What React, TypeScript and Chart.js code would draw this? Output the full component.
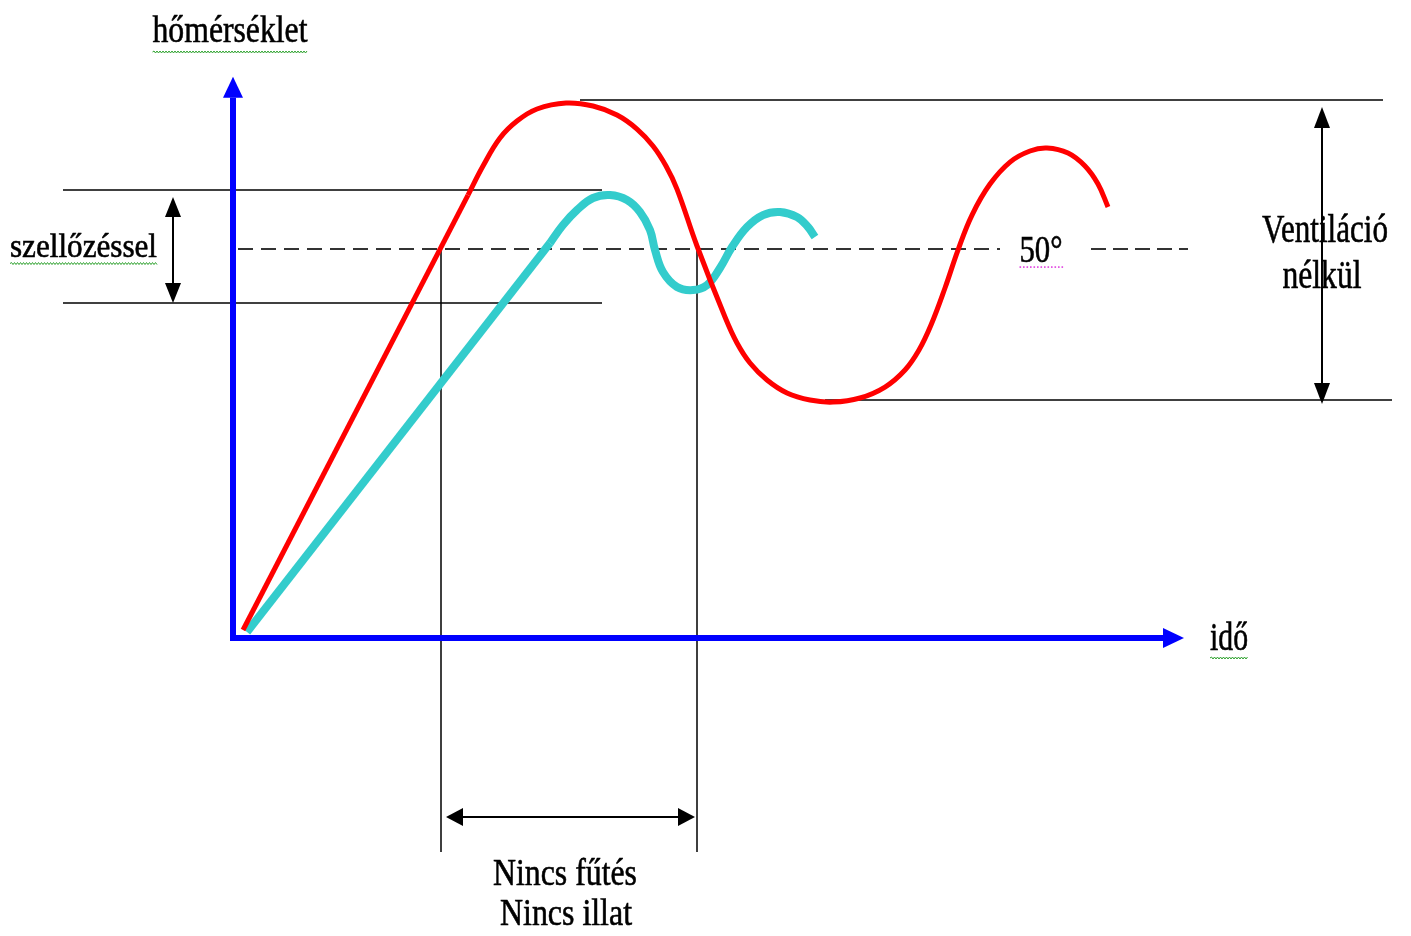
import { useEffect, useRef } from "react";
import { Chart, registerables } from "chart.js";

Chart.register(...registerables);

// ---- scale ranges (x: time units, y: temperature °C) ----
const TIME_MIN = -23.3;
const TIME_MAX = 117.8;
const TEMP_MIN = -38.3;
const TEMP_MAX = 82.01;

// ---- blue axes (shaft ends; arrowheads are added beyond them) ----
const axisTime = [0, 0, 93.0];
const axisTemp = [69.46, 0, 0];

// ---- red curve: without ventilation ----
const redRiseTime = [1.0, 23.5];
const redRiseTemp = [1.03, 56.94];
const redWaveTime = [23.5, 25.0, 26.7, 28.4, 30.4, 33.3, 36.0, 38.4, 40.4, 42.0, 43.3, 44.4, 46.4, 49.2, 50.4, 51.7, 53.4, 55.4, 57.7, 60.0, 62.7, 65.2, 67.2, 68.6, 69.8, 71.2, 72.5, 73.9, 75.7, 77.7, 79.7, 81.4, 83.5, 85.2, 86.5, 87.5];
const redWaveTemp = [56.94, 60.67, 64.27, 66.45, 68.0, 68.77, 68.38, 67.22, 65.42, 63.24, 60.67, 57.71, 50.39, 41.26, 37.92, 35.35, 33.16, 31.49, 30.59, 30.33, 30.85, 32.26, 34.45, 37.02, 40.23, 44.99, 49.87, 54.37, 58.35, 61.18, 62.60, 62.98, 62.34, 60.67, 58.35, 55.40];

// ---- cyan curve: with ventilation ----
const cyanRiseTime = [1.4, 31.7];
const cyanRiseTemp = [0.77, 50.77];
const cyanWaveTime = [31.7, 33.0, 34.4, 36.0, 37.7, 39.4, 40.7, 41.7, 42.2, 43.0, 44.4, 46.0, 47.4, 48.7, 49.9, 51.4, 53.0, 54.7, 56.4, 57.5, 58.2];
const cyanWaveTemp = [50.77, 53.08, 55.01, 56.56, 56.94, 56.30, 54.76, 52.44, 49.87, 47.04, 45.12, 44.73, 45.37, 47.56, 50.26, 52.83, 54.37, 54.76, 54.11, 52.83, 51.54];

// ---- 50° set point dashed line ----
const setPoint = 50;
const dashLeftTime = [0.5, 76.7];
const dashRightTime = [85.8, 95.5];

// ---- thin reference lines ----
const maxLineTime = [34.7, 115.0];
const maxLineTemp = 69.15;
const ventHighTime = [-17.0, 36.9];
const ventHighTemp = 57.58;
const ventLowTime = [-17.0, 36.9];
const ventLowTemp = 43.06;
const minLineTime = [59.2, 115.9];
const minLineTemp = 30.59;
const markerTimes = [20.8, 46.4];
const markerTemp = [50.0, -27.51];

// ---- double arrows (shaft ends) ----
const ventArrowTime = -6.0;
const ventArrowTemp = [54.11, 45.63];
const noVentArrowTime = 108.9;
const noVentArrowTemp = [65.55, 32.78];
const gapArrowTime = [23.0, 44.5];
const gapArrowTemp = -23.01;

// ---- labels ----
const labelTexts = ["hőmérséklet", "szellőzéssel", "50°", "Ventiláció", "nélkül", "idő", "Nincs fűtés", "Nincs illat"];
const labelTimes = [-0.3, -14.95, 80.8, 109.2, 108.9, 99.6, 33.2, 33.3];
const labelTemps = [76.61, 48.97, 48.33, 50.9, 44.99, -1.54, -31.75, -36.89];

// label styles: [font px, fitted width px, underline kind, underline offset]
const labelStyles: [number, number, string, number][] = [
  [38, 155, "wavy", 10],
  [33, 147, "wavy", 6.5],
  [38, 43, "dotted", 5],
  [40, 126, "", 0],
  [40, 79, "", 0],
  [40, 38, "wavy", 8],
  [38, 144, "", 0],
  [38, 132, "", 0],
];

const FONT = "'Liberation Serif', 'Times New Roman', serif";

function pts(xs: number[], ys: number[]) {
  return xs.map((x, i) => ({ x, y: ys[i] }));
}

const annotate = {
  id: "annotate",
  beforeDatasetsDraw(chart: any) {
    const ctx = chart.ctx as CanvasRenderingContext2D;
    const xs = chart.scales.x;
    const ys = chart.scales.y;
    labelTexts.forEach((text, i) => {
      const [size, width, ul, off] = labelStyles[i];
      const cx = xs.getPixelForValue(labelTimes[i]);
      const by = ys.getPixelForValue(labelTemps[i]);
      ctx.save();
      ctx.font = `${size}px ${FONT}`;
      const w = ctx.measureText(text).width;
      ctx.translate(cx, by);
      ctx.scale(width / w, 1);
      ctx.textAlign = "center";
      ctx.textBaseline = "alphabetic";
      ctx.fillStyle = "#000";
      ctx.strokeStyle = "#000";
      ctx.lineWidth = 0.6;
      ctx.fillText(text, 0, 0);
      ctx.strokeText(text, 0, 0);
      ctx.restore();
      const x0 = cx - width / 2;
      const x1 = cx + width / 2;
      const uy = by + off;
      if (ul === "wavy") {
        ctx.save();
        ctx.strokeStyle = "#2ca02c";
        ctx.lineWidth = 1;
        ctx.beginPath();
        let up = true;
        ctx.moveTo(x0, uy);
        for (let x = x0 + 1.5; x <= x1; x += 1.5) {
          ctx.lineTo(x, uy + (up ? -1 : 1));
          up = !up;
        }
        ctx.stroke();
        ctx.restore();
      } else if (ul === "dotted") {
        ctx.save();
        ctx.fillStyle = "#e040e0";
        for (let x = x0; x <= x1; x += 3.5) {
          ctx.fillRect(x, uy - 0.75, 1.6, 1.6);
        }
        ctx.restore();
      }
    });
  },
  afterDatasetsDraw(chart: any) {
    const ctx = chart.ctx as CanvasRenderingContext2D;
    chart.data.datasets.forEach((ds: any, i: number) => {
      if (!ds.arrowHeads) return;
      const meta = chart.getDatasetMeta(i);
      const els = meta.data;
      if (els.length < 2) return;
      const [len, wid] = ds.arrowHeads;
      const head = (tipFrom: any, base: any) => {
        const dx = base.x - tipFrom.x;
        const dy = base.y - tipFrom.y;
        const d = Math.hypot(dx, dy) || 1;
        const ux = dx / d;
        const uy = dy / d;
        const tx = base.x + ux * len;
        const ty = base.y + uy * len;
        const px = -uy * (wid / 2);
        const py = ux * (wid / 2);
        ctx.save();
        ctx.fillStyle = ds.borderColor;
        ctx.beginPath();
        ctx.moveTo(tx, ty);
        ctx.lineTo(base.x + px, base.y + py);
        ctx.lineTo(base.x - px, base.y - py);
        ctx.closePath();
        ctx.fill();
        ctx.restore();
      };
      head(els[1], els[0]);
      head(els[els.length - 2], els[els.length - 1]);
    });
  },
};

export default function App() {
  const ref = useRef<HTMLCanvasElement | null>(null);

  useEffect(() => {
    document.body.style.margin = "0";
    const canvas = ref.current;
    if (!canvas) return;

    const thin = (data: any[], extra: any = {}) => ({
      data,
      borderColor: "#000",
      borderWidth: 1.5,
      pointRadius: 0,
      tension: 0,
      order: 6,
      ...extra,
    });

    const chart = new Chart(canvas, {
      type: "line",
      data: {
        datasets: [
          {
            label: "Ventiláció nélkül (emelkedés)",
            data: pts(redRiseTime, redRiseTemp),
            borderColor: "#ff0000",
            borderWidth: 5,
            pointRadius: 0,
            tension: 0,
            order: 1,
          },
          {
            label: "Ventiláció nélkül",
            data: pts(redWaveTime, redWaveTemp),
            borderColor: "#ff0000",
            borderWidth: 5,
            pointRadius: 0,
            tension: 0.4,
            order: 1,
          },
          {
            label: "Szellőzéssel (emelkedés)",
            data: pts(cyanRiseTime, cyanRiseTemp),
            borderColor: "#33cccc",
            borderWidth: 8,
            pointRadius: 0,
            tension: 0,
            order: 2,
          },
          {
            label: "Szellőzéssel",
            data: pts(cyanWaveTime, cyanWaveTemp),
            borderColor: "#33cccc",
            borderWidth: 8,
            pointRadius: 0,
            tension: 0.4,
            order: 2,
          },
          {
            label: "tengelyek",
            data: pts(axisTime, axisTemp),
            borderColor: "#0000ff",
            borderWidth: 6,
            pointRadius: 0,
            tension: 0,
            borderJoinStyle: "miter",
            order: 3,
            arrowHeads: [21, 20],
          } as any,
          {
            label: "50° bal",
            data: pts(dashLeftTime, [setPoint, setPoint]),
            borderColor: "#333",
            borderWidth: 2,
            borderDash: [15, 8],
            pointRadius: 0,
            order: 5,
          },
          {
            label: "50° jobb",
            data: pts(dashRightTime, [setPoint, setPoint]),
            borderColor: "#333",
            borderWidth: 2,
            borderDash: [15, 7],
            pointRadius: 0,
            order: 5,
          },
          thin(pts(maxLineTime, [maxLineTemp, maxLineTemp])),
          thin(pts(ventHighTime, [ventHighTemp, ventHighTemp])),
          thin(pts(ventLowTime, [ventLowTemp, ventLowTemp])),
          thin(pts(minLineTime, [minLineTemp, minLineTemp])),
          thin(pts([markerTimes[0], markerTimes[0]], markerTemp)),
          thin(pts([markerTimes[1], markerTimes[1]], markerTemp)),
          thin(pts([ventArrowTime, ventArrowTime], ventArrowTemp), { borderWidth: 2, arrowHeads: [20, 16] }),
          thin(pts([noVentArrowTime, noVentArrowTime], noVentArrowTemp), { borderWidth: 2, arrowHeads: [21, 16] }),
          thin(pts(gapArrowTime, [gapArrowTemp, gapArrowTemp]), { borderWidth: 2, arrowHeads: [17, 18] }),
        ] as any,
      },
      options: {
        responsive: false,
        maintainAspectRatio: false,
        animation: false,
        layout: { padding: 0 },
        events: [],
        plugins: {
          legend: { display: false },
          tooltip: { enabled: false },
        },
        scales: {
          x: { type: "linear", min: TIME_MIN, max: TIME_MAX, display: false },
          y: { type: "linear", min: TEMP_MIN, max: TEMP_MAX, display: false },
        },
      },
      plugins: [annotate],
    });

    return () => chart.destroy();
  }, []);

  return (
    <div style={{ width: 1411, height: 936, background: "#fff" }}>
      <canvas ref={ref} width={1411} height={936} style={{ display: "block" }} />
    </div>
  );
}
